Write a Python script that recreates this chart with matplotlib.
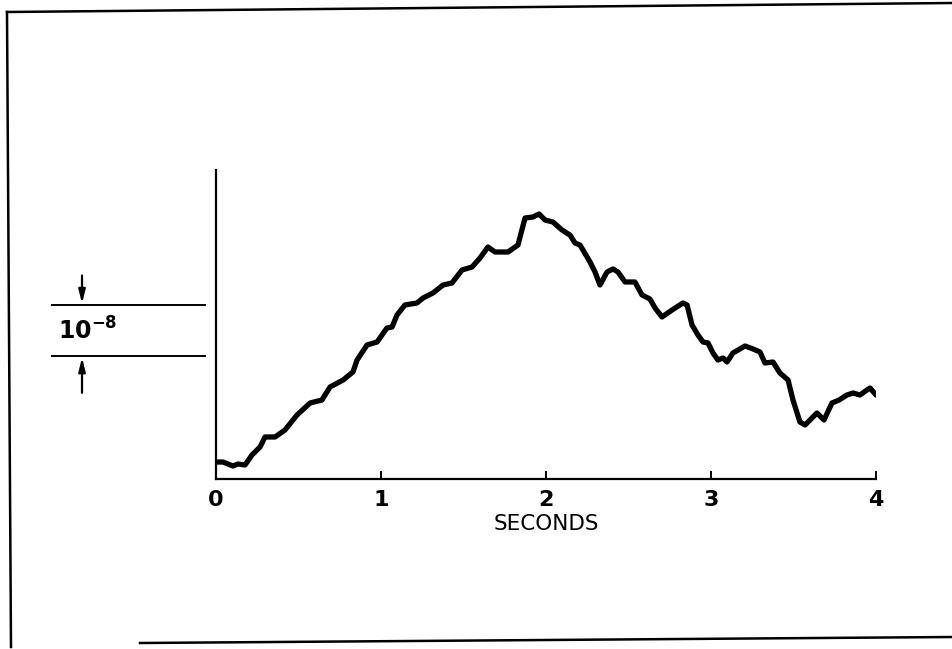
import matplotlib

matplotlib.use("Agg")
import matplotlib.pyplot as plt
from matplotlib.lines import Line2D

# time in seconds
seconds = [
    0.0, 0.042, 0.103, 0.133, 0.176, 0.218, 0.267, 0.297, 0.358, 0.418,
    0.491, 0.570, 0.642, 0.691, 0.770, 0.830, 0.855, 0.915, 0.976, 1.036,
    1.067, 1.097, 1.145, 1.218, 1.255, 1.315, 1.376, 1.430, 1.491, 1.552,
    1.600, 1.648, 1.691, 1.770, 1.830, 1.873, 1.921, 1.958, 1.994, 2.042,
    2.097, 2.145, 2.176, 2.206, 2.267, 2.297, 2.327, 2.370, 2.406, 2.436,
    2.479, 2.539, 2.582, 2.630, 2.661, 2.703, 2.764, 2.830, 2.855, 2.885,
    2.921, 2.952, 2.982, 3.012, 3.042, 3.073, 3.097, 3.133, 3.206, 3.255,
    3.297, 3.327, 3.376, 3.418, 3.467, 3.497, 3.539, 3.570, 3.612, 3.642,
    3.685, 3.733, 3.776, 3.824, 3.861, 3.903, 3.945, 3.964, 4.0,
]
# signal in units of 1e-8 (one unit = the scale bar)
signal = [
    0.333, 0.333, 0.255, 0.294, 0.275, 0.471, 0.627, 0.824, 0.824, 0.961,
    1.255, 1.490, 1.549, 1.804, 1.941, 2.098, 2.333, 2.627, 2.686, 2.961,
    2.980, 3.216, 3.412, 3.451, 3.549, 3.647, 3.804, 3.843, 4.098, 4.157,
    4.333, 4.549, 4.451, 4.451, 4.588, 5.118, 5.137, 5.196, 5.078, 5.039,
    4.882, 4.784, 4.627, 4.588, 4.255, 4.059, 3.804, 4.059, 4.118, 4.059,
    3.863, 3.863, 3.608, 3.529, 3.353, 3.176, 3.314, 3.451, 3.412, 3.020,
    2.824, 2.686, 2.667, 2.471, 2.333, 2.373, 2.294, 2.471, 2.608, 2.549,
    2.490, 2.275, 2.294, 2.078, 1.941, 1.549, 1.118, 1.059, 1.196, 1.294,
    1.157, 1.490, 1.549, 1.647, 1.686, 1.647, 1.745, 1.784, 1.647,
]
tick_values = [1, 2, 3, 4]
tick_labels = ["0", "1", "2", "3", "4"]

# scale bar: lower and upper level, one unit apart
scale_low = 2.41
scale_high = scale_low + 1.0

W, H = 953, 649
fig = plt.figure(figsize=(W / 100, H / 100), dpi=100)
fig.patch.set_facecolor("white")


def px(x, y):
    """Pixel position -> figure fraction."""
    return x / W, 1 - y / H


# scanned page frame (slightly skewed)
for (x0, y0), (x1, y1) in [((7, 12), (953, 3)), ((7, 12), (11, 647)), ((140, 643), (953, 637))]:
    a, b = px(x0, y0)
    c, d = px(x1, y1)
    fig.add_artist(Line2D([a, c], [b, d], transform=fig.transFigure, color="black", lw=1.8))

ax = fig.add_axes([216 / W, (H - 479) / H, 660 / W, 309 / H])
ax.plot(seconds, signal, color="black", lw=3.8, solid_joinstyle="round", solid_capstyle="round")

ax.set_xlim(0, 4)
ax.set_ylim(0, 309 / 51)
for side in ("top", "right"):
    ax.spines[side].set_visible(False)
for side in ("left", "bottom"):
    ax.spines[side].set_linewidth(1.6)

ax.set_yticks([])
ax.set_xticks([0] + tick_values)
ax.set_xticklabels(tick_labels, fontsize=16, fontweight="bold", family="DejaVu Sans")
ax.tick_params(axis="x", direction="in", length=6, width=1.4, pad=8)
ax.xaxis.get_major_ticks()[0].tick1line.set_visible(False)
ax.set_xlabel("SECONDS", fontsize=15.5, labelpad=3)

# scale bar on the left
ax.plot([-0.994, -0.067], [scale_high, scale_high], color="black", lw=1.4, clip_on=False)
ax.plot([-0.994, -0.067], [scale_low, scale_low], color="black", lw=1.4, clip_on=False)
arrow = dict(arrowstyle="-|>,head_length=0.8,head_width=0.2", color="black", lw=1.6,
             shrinkA=0, shrinkB=0)
ax.annotate("", xy=(-0.812, scale_high + 0.03), xytext=(-0.812, scale_high + 0.58),
            arrowprops=arrow, annotation_clip=False)
ax.annotate("", xy=(-0.812, scale_low - 0.03), xytext=(-0.812, scale_low - 0.72),
            arrowprops=arrow, annotation_clip=False)
ax.text(-0.96, scale_low + 0.5, r"$\mathbf{10^{-8}}$", fontsize=17,
        ha="left", va="center", clip_on=False)

fig.savefig("out.png", dpi=100, facecolor="white")
plt.close(fig)
